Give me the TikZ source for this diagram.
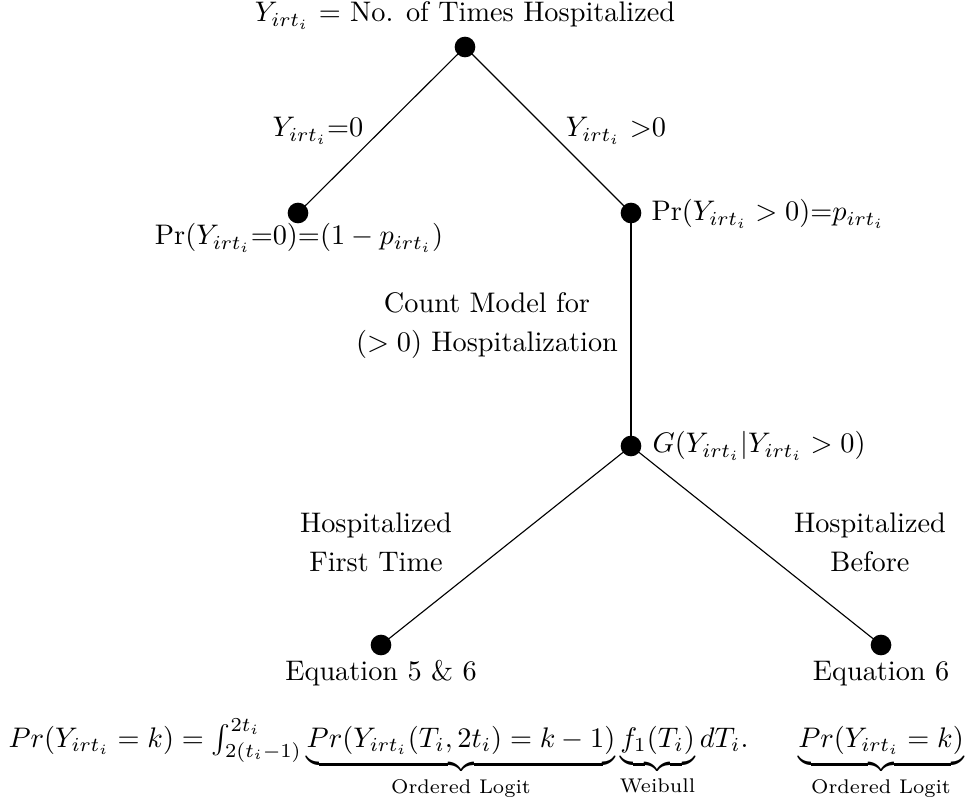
\documentclass[tikz,border=0pt]{standalone}
\usepackage{amsmath}
\begin{document}
\begin{tikzpicture}[x=0.3534pt,y=-0.3534pt,
  dot/.style={circle,fill=black,inner sep=0pt,minimum size=7.3pt},
  lbl/.style={inner sep=0pt,anchor=base},
  lblw/.style={inner sep=0pt,anchor=base west},
  branch/.style={draw=black,line width=0.4pt}]
\useasboundingbox (0,0) rectangle (967,803);
% connectors (drawn first, from coordinates that the dots sit on)
\coordinate (cRoot) at (465,47);
\coordinate (cLeft) at (298,213);
\coordinate (cRight) at (631,213);
\coordinate (cG) at (631,446);
\coordinate (cBL) at (381,645);
\coordinate (cBR) at (881,645);
\draw[branch] (cRoot) -- (cLeft);
\draw[branch] (cRoot) -- (cRight);
\draw[branch] (cRight) -- (cG);
\draw[branch] (cG) -- (cBL);
\draw[branch] (cG) -- (cBR);
% dots
\node[dot] (root) at (cRoot) {};
\node[dot] (left) at (cLeft) {};
\node[dot] (right) at (cRight) {};
\node[dot] (gnode) at (cG) {};
\node[dot] (bl) at (cBL) {};
\node[dot] (br) at (cBR) {};
% labels
\node[lbl] (title) at (465,22) {$Y_{irt_i}$ = No. of Times Hospitalized};
\node[lbl] (e0) at (318,137) {$Y_{irt_i}$=0};
\node[lbl] (e1) at (616,137) {$Y_{irt_i}$ $>$0};
\node[lbl] (pl) at (299,245) {Pr($Y_{irt_i}$=0)=($1-p_{irt_i}$)};
\node[lblw] (pr) at (651,221) {Pr($Y_{irt_i}>0$)=$p_{irt_i}$};
\node[lbl] (cm1) at (487,313) {Count Model for};
\node[lbl] (cm2) at (487,352) {($>0$) Hospitalization};
\node[lblw] (gl) at (652,453) {$G(Y_{irt_i}|Y_{irt_i}>0)$};
\node[lbl] (h1a) at (376,533) {Hospitalized};
\node[lbl] (h1b) at (376,572) {First Time};
\node[lbl] (h2a) at (870,533) {Hospitalized};
\node[lbl] (h2b) at (870,572) {Before};
\node[lbl] (eq56) at (381,680) {Equation 5 \& 6};
\node[lbl] (eq6) at (881,680) {Equation 6};
\node[lblw] (fl) at (8,747) {$Pr(Y_{irt_i}=k) = \int_{2(t_i-1)}^{2t_i}\underbrace{Pr(Y_{irt_i}(T_i,2t_i)=k-1)}_{\text{Ordered Logit}}\underbrace{f_1(T_i)}_{\text{Weibull}}dT_i.$};
\node[lbl] (fr) at (881,747) {$\underbrace{Pr(Y_{irt_i}=k)}_{\text{Ordered Logit}}$};
\end{tikzpicture}
\end{document}
